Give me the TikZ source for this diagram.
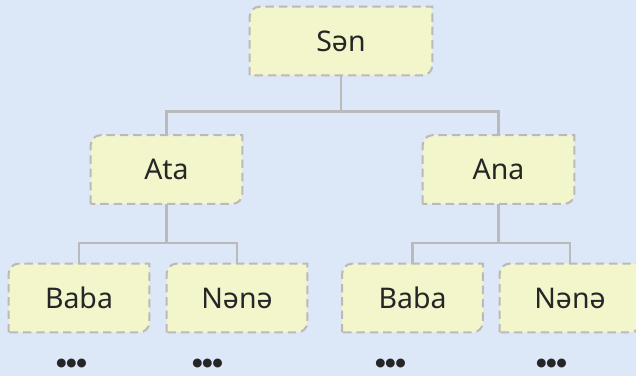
\documentclass[tikz,border=0pt]{standalone}
\usepackage{fontspec}
\setmainfont{Noto Sans}
\newfontfamily\dotfont{DejaVu Sans}
\usepackage{tikz}
\usetikzlibrary{backgrounds}

\definecolor{bgblue}{HTML}{DCE7F7}
\definecolor{boxfill}{HTML}{F3F6CB}
\definecolor{linegray}{HTML}{BABABA}

\begin{document}
\begin{tikzpicture}[x=0.02cm, y=-0.02cm,
  every node/.style={font=\fontsize{16.2pt}{19pt}\selectfont, text=black!85},
  person/.style={rectangle, inner sep=0pt, minimum height=1.36cm},
  wide/.style={minimum width=3.64cm},
  mid/.style={minimum width=3.02cm},
  leaf/.style={minimum width=2.8cm},
  boxline/.style={draw=linegray, fill=boxfill, line width=1.2pt, dash pattern=on 4.8pt off 2.8pt},
  conn/.style={draw=linegray, line width=1.4pt},
  more/.style={font=\dotfont\fontsize{6.6pt}{8pt}\selectfont, inner sep=1pt}]
\useasboundingbox (0,0) rectangle (636,376);
% boxes
\node[person,wide] (sen) at (341,41) {Sən};
\node[person,mid] (ata) at (166.5,169.5) {Ata};
\node[person,mid] (ana) at (498.5,169.5) {Ana};
\node[person,leaf] (b1) at (79,298) {Baba};
\node[person,leaf] (n1) at (237,298) {Nənə};
\node[person,leaf] (b2) at (412.5,298) {Baba};
\node[person,leaf] (n2) at (570,298) {Nənə};
\begin{scope}[on background layer]
\clip (0,0) rectangle (636,376);
\fill[bgblue] (0,0) rectangle (636,376);
\foreach \n in {sen,ata,ana,b1,n1,b2,n2}{
  \path[boxline] (\n.south west) -- ([yshift=-0.2cm]\n.north west)
    arc[start angle=180, end angle=90, radius=0.2cm] -- (\n.north east)
    -- ([yshift=0.2cm]\n.south east)
    arc[start angle=0, end angle=-90, radius=0.2cm] -- cycle;
}
\end{scope}
% connectors
\draw[conn] (sen.south) -- ++(0,36) coordinate (j0);
\draw[conn] (ata.north) |- (j0) -| (ana.north);
\draw[conn] (ata.south) -- ++(0,39) coordinate (j1);
\draw[conn] (b1.north) |- (j1) -| (n1.north);
\draw[conn] (ana.south) -- ++(0,39) coordinate (j2);
\draw[conn] (b2.north) |- (j2) -| (n2.north);
% further generations
\node[more] (d1) at (71.5,363) {●●●};
\node[more] (d2) at (207.5,363) {●●●};
\node[more] (d3) at (390.5,363) {●●●};
\node[more] (d4) at (551.5,363) {●●●};
\end{tikzpicture}
\end{document}
